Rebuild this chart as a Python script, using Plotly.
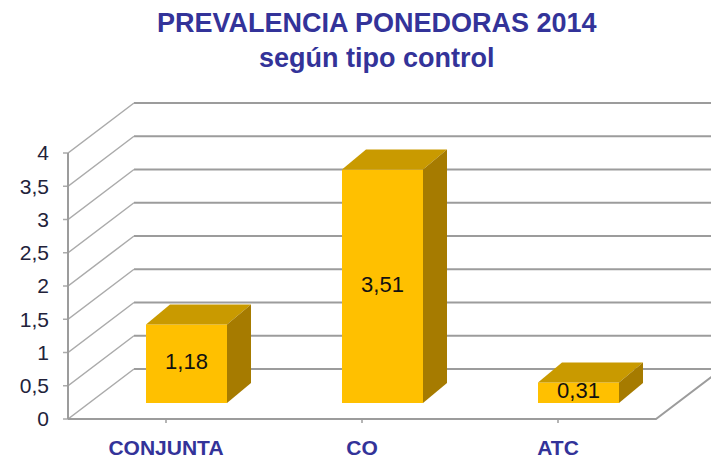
import plotly.graph_objects as go

# ---- data ----
categories = ["CONJUNTA", "CO", "ATC"]
values = [1.18, 3.51, 0.31]
y_tick_values = [0, 0.5, 1, 1.5, 2, 2.5, 3, 3.5, 4]
y_tick_labels = ["0", "0,5", "1", "1,5", "2", "2,5", "3", "3,5", "4"]
title_lines = ["PREVALENCIA PONEDORAS 2014", "según tipo control"]

# ---- geometry (pixel scale helpers) ----
PX_X = 196.0   # px per category unit
PX_Y = 66.5    # px per value unit
WALL_DX = 66 / PX_X
WALL_DY = 50 / PX_Y
BAR_SHIFT_X = 20.5 / PX_X
BAR_SHIFT_Y = 16 / PX_Y
BAR_W = 81 / PX_X
BAR_DX = 24 / PX_X
BAR_DY = 20 / PX_Y
X0 = -0.5 - 8 / PX_X
X1 = X0 + 651 / PX_X
Y0 = -6 / PX_Y
Y1 = Y0 + 330 / PX_Y
LEFT = -0.5
RIGHT = len(categories) - 0.5

FONT = "Liberation Sans, Arial, sans-serif"
BLUE = "#333399"
FRONT = "#FFC000"
TOP = "#C99A00"
SIDE = "#A67B00"
GRID = "#9c9c9c"

fig = go.Figure()

# back-wall horizontal gridlines
hx, hy = [], []
for v in y_tick_values:
    hx += [LEFT + WALL_DX, X1 + 1, None]
    hy += [v + WALL_DY, v + WALL_DY, None]
fig.add_trace(go.Scatter(x=hx, y=hy, mode="lines", line=dict(color=GRID, width=2),
                         hoverinfo="skip", showlegend=False))

# left-wall diagonals + tick marks
dx_, dy_ = [], []
for v in y_tick_values:
    dx_ += [LEFT - 5 / PX_X, LEFT, LEFT + WALL_DX, None]
    dy_ += [v, v, v + WALL_DY, None]
fig.add_trace(go.Scatter(x=dx_, y=dy_, mode="lines", line=dict(color="#ababab", width=1.5),
                         hoverinfo="skip", showlegend=False))

# left axis, floor front edge, floor right edge
fig.add_trace(go.Scatter(
    x=[LEFT, LEFT, None, LEFT, RIGHT, RIGHT + WALL_DX],
    y=[max(y_tick_values), 0, None, 0, 0, WALL_DY],
    mode="lines", line=dict(color=GRID, width=2), hoverinfo="skip", showlegend=False))

# category tick marks
tx, ty = [], []
for i in range(len(categories)):
    tx += [i, i, None]
    ty += [0, -4 / PX_Y, None]
fig.add_trace(go.Scatter(x=tx, y=ty, mode="lines", line=dict(color=GRID, width=1.5),
                         hoverinfo="skip", showlegend=False))

# ---- bars (overlay axes so they sit above the grid) ----
xs = [i + BAR_SHIFT_X for i in range(len(categories))]
fig.add_trace(go.Bar(x=xs, y=values, base=BAR_SHIFT_Y, width=BAR_W,
                     marker=dict(color=FRONT, line=dict(width=0)),
                     xaxis="x2", yaxis="y2", showlegend=False, hoverinfo="skip"))

for xc, v in zip(xs, values):
    xl, xr = xc - BAR_W / 2, xc + BAR_W / 2
    yb, yt = BAR_SHIFT_Y, BAR_SHIFT_Y + v
    # top face
    fig.add_trace(go.Scatter(
        x=[xl, xr, xr + BAR_DX, xl + BAR_DX, xl],
        y=[yt, yt, yt + BAR_DY, yt + BAR_DY, yt],
        mode="lines", fill="toself", fillcolor=TOP, line=dict(width=0, color=TOP),
        xaxis="x2", yaxis="y2", showlegend=False, hoverinfo="skip"))
    # side face
    fig.add_trace(go.Scatter(
        x=[xr, xr, xr + BAR_DX, xr + BAR_DX, xr],
        y=[yb, yt, yt + BAR_DY, yb + BAR_DY, yb],
        mode="lines", fill="toself", fillcolor=SIDE, line=dict(width=0, color=SIDE),
        xaxis="x2", yaxis="y2", showlegend=False, hoverinfo="skip"))

fig.add_trace(go.Scatter(
    x=xs, y=[BAR_SHIFT_Y + v / 2 for v in values],
    text=[f"{v:.2f}".replace(".", ",") for v in values],
    mode="text", textfont=dict(family=FONT, size=22, color="#111111"),
    xaxis="x2", yaxis="y2", showlegend=False, hoverinfo="skip"))

fig.update_layout(
    width=711, height=459,
    margin=dict(l=60, r=0, t=95, b=34),
    paper_bgcolor="white", plot_bgcolor="rgba(0,0,0,0)",
    title=dict(text="<b>" + "<br>".join(title_lines) + "</b>",
               x=0.53, xanchor="center", y=0.93, yanchor="top", yref="container",
               font=dict(family=FONT, size=27, color=BLUE)),
    xaxis=dict(range=[X0, X1], tickvals=list(range(len(categories))),
               ticktext=[f"<b>{c}</b>" for c in categories],
               tickfont=dict(family=FONT, size=21, color=BLUE),
               ticks="", showgrid=False, zeroline=False, showline=False,
               ticklabelstandoff=8, fixedrange=True),
    yaxis=dict(range=[Y0, Y1], tickvals=y_tick_values, ticktext=y_tick_labels,
               tickfont=dict(family=FONT, size=21, color="#22223a"),
               ticks="", showgrid=False, zeroline=False, showline=False,
               ticklabelstandoff=10, fixedrange=True),
    xaxis2=dict(range=[X0, X1], overlaying="x", anchor="y2", visible=False, fixedrange=True),
    yaxis2=dict(range=[Y0, Y1], overlaying="y", anchor="x2", visible=False, fixedrange=True),
)

fig.write_html("out.html", config={"displayModeBar": False},
               post_script="document.body.style.margin='0';")
